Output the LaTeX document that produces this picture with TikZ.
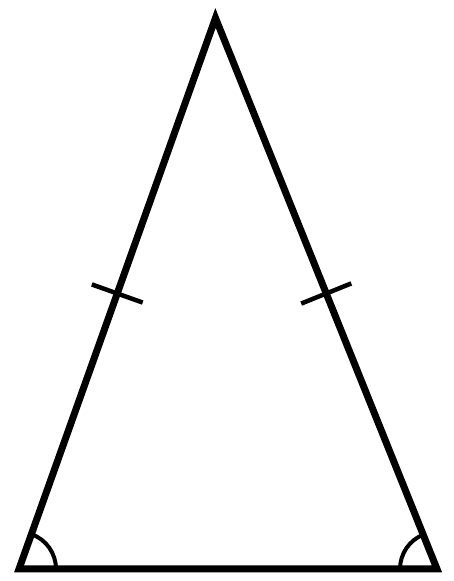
\documentclass[tikz,border=0pt]{standalone}
\usetikzlibrary{calc,angles}
\begin{document}
\begin{tikzpicture}[x=1pt,y=1pt,
  side/.style={line width=7pt,line join=miter},
  tickmark/.style={line width=4.5pt},
  anglemark/.style={draw,line width=4pt,angle radius=37pt}]
\useasboundingbox (0,0) rectangle (453,581);
\coordinate (T) at (215.5,563);
\coordinate (L) at (19,12);
\coordinate (R) at (437,12);
\coordinate (ML) at ($(L)!0.5!(T)$);
\coordinate (MR) at ($(R)!0.5!(T)$);
\draw[side] (T) -- (L) -- (R) -- cycle;
\draw[tickmark] ($(ML)!27pt!90:(T)$) -- ($(ML)!27pt!-90:(T)$);
\draw[tickmark] ($(MR)!27pt!90:(T)$) -- ($(MR)!27pt!-90:(T)$);
\pic[anglemark] {angle = R--L--T};
\pic[anglemark] {angle = T--R--L};
\end{tikzpicture}
\end{document}
